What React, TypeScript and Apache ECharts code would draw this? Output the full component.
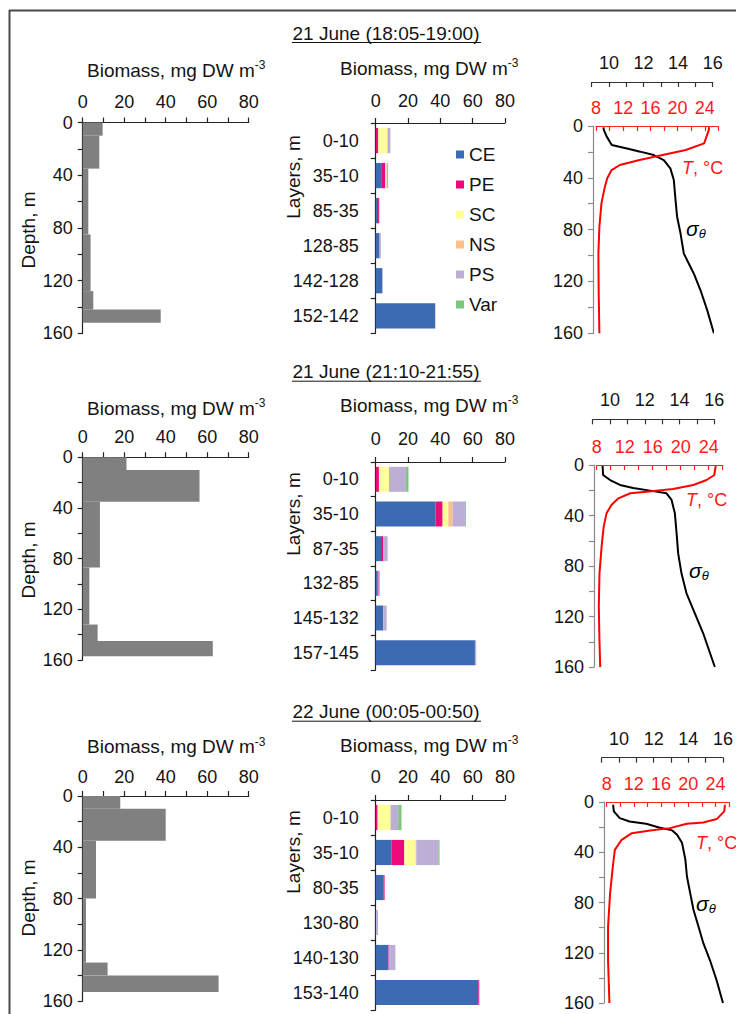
import React, { useEffect, useRef } from "react";
import * as echarts from "echarts";

const FONT = "Liberation Sans, Arial, Helvetica, sans-serif";

// ---------- DATA ----------
const dateTitles = ["21 June (18:05-19:00)", "21 June (21:10-21:55)", "22 June (00:05-00:50)"];
const groupNames = ["CE", "PE", "SC", "NS", "PS", "Var"];
const groupColors = ["#3d6bb3", "#ec0a7a", "#ffff9a", "#fbbf8a", "#bdaed6", "#7dc77d"];

// histogram layers (depth top, depth bottom, biomass)
const hist1Top = [0, 10, 35, 85, 128, 142];
const hist1Bottom = [10, 35, 85, 128, 142, 152];
const hist1Value = [9.6, 8.0, 2.7, 3.8, 5.1, 37.6];
const hist2Top = [0, 10, 35, 87, 132, 145];
const hist2Bottom = [10, 35, 87, 132, 145, 157];
const hist2Value = [21.1, 56.3, 8.3, 3.2, 7.2, 62.7];
const hist3Top = [0, 10, 35, 80, 130, 140];
const hist3Bottom = [10, 35, 80, 130, 140, 153];
const hist3Value = [18.1, 40.0, 6.4, 1.6, 12.0, 65.5];

// layers (categories) of the stacked bars
const layers1 = ["0-10", "35-10", "85-35", "128-85", "142-128", "152-142"];
const layers2 = ["0-10", "35-10", "87-35", "132-85", "145-132", "157-145"];
const layers3 = ["0-10", "35-10", "80-35", "130-80", "140-130", "153-140"];

// stacked biomass by group
const ce1 = [0.2, 3.8, 0.8, 2.3, 4.1, 36.7];
const pe1 = [1.4, 2.2, 1.2, 0.1, 0, 0];
const sc1 = [5.6, 0.6, 0, 0, 0, 0];
const ns1 = [0.3, 0.3, 0, 0, 0, 0];
const ps1 = [1.5, 0.8, 0.4, 0.8, 0.3, 0.3];
const var1 = [0.1, 0, 0, 0, 0, 0];

const ce2 = [0, 37.1, 3.3, 1.2, 4.7, 61.4];
const pe2 = [2.0, 4.3, 1.4, 0.6, 0, 0];
const sc2 = [6.2, 3.5, 0, 0, 0, 0];
const ns2 = [0, 2.7, 0, 0, 0, 0];
const ps2 = [10.5, 7.6, 2.7, 0.8, 2.1, 0.8];
const var2 = [1.6, 0.6, 0, 0, 0, 0];

const ce3 = [0, 9.9, 4.7, 0.2, 7.8, 63.5];
const pe3 = [1.2, 7.8, 0.8, 0, 0.3, 0.6];
const sc3 = [8.0, 7.0, 0, 0, 0, 0];
const ns3 = [0, 0.4, 0, 0, 0, 0];
const ps3 = [4.7, 13.6, 0, 1.2, 4.1, 0];
const var3 = [2.1, 0.8, 0, 0, 0, 0];

// temperature profiles [T, depth]
const temp1 = [[24.6, 1], [24.6, 3], [23.9, 13.4], [21.2, 18.5], [17.8, 22.4], [14.4, 26.3], [11.5, 30.1], [10.3, 34], [9.65, 40.4], [9.3, 47], [8.8, 59.7], [8.5, 77.8], [8.35, 98.4], [8.4, 130], [8.5, 160]];
const temp2 = [[25.0, 0.8], [24.8, 7.9], [23.7, 11.9], [21.8, 15.8], [18.9, 19.0], [15.1, 21.1], [12.8, 22.4], [11.1, 26.4], [10.1, 31.7], [9.4, 38.3], [9.0, 48.8], [8.7, 64.7], [8.4, 85.8], [8.3, 112], [8.4, 140], [8.5, 160]];
const temp3 = [[25.4, 2.2], [25.3, 7.5], [24.2, 13.6], [22.2, 16.3], [19.8, 17.3], [17.3, 20.8], [14.4, 22.6], [11.7, 24.8], [10.2, 30.1], [9.2, 38.1], [8.9, 51.4], [8.5, 72.7], [8.2, 99.3], [8.2, 126], [8.4, 160]];

// density profiles [sigma-theta, depth]
const sigma1 = [[9.68, 1], [9.7, 3], [9.87, 8.2], [10.16, 14.7], [11.04, 17.3], [11.81, 19.8], [12.59, 22.4], [13.17, 26.3], [13.55, 32.7], [13.75, 41.7], [13.85, 57.2], [13.94, 70], [14.14, 83], [14.33, 98.5], [14.91, 114], [15.3, 127], [15.69, 142.5], [16.07, 160]];
const sigma2 = [[9.57, 0.8], [9.6, 7.9], [10.0, 11.9], [10.57, 15.8], [11.33, 18.2], [12.3, 20.3], [13.25, 22.4], [13.54, 27.7], [13.73, 38.3], [13.83, 54.1], [13.92, 70], [14.11, 85.8], [14.4, 101.6], [14.88, 117.5], [15.36, 133.3], [16.03, 160]];
const sigma3 = [[9.66, 2.2], [9.7, 7.5], [10.04, 12.8], [10.61, 15.5], [11.56, 17.3], [12.31, 20.3], [13.07, 22.6], [13.35, 26.1], [13.64, 32.7], [13.83, 46], [13.92, 59.3], [14.11, 72.7], [14.3, 86], [14.59, 99.3], [14.87, 112.6], [15.25, 126], [15.63, 141.9], [16.0, 160]];

const biomassTicks = [0, 20, 40, 60, 80];
const depthTicks = [0, 40, 80, 120, 160];
const tempTicks = [8, 12, 16, 20, 24];
const sigmaTicks = [10, 12, 14, 16];

// ---------- ROW BUNDLES ----------
const rowsData = [
  { title: dateTitles[0], hTop: hist1Top, hBot: hist1Bottom, hVal: hist1Value, layers: layers1, groups: [ce1, pe1, sc1, ns1, ps1, var1], temp: temp1, sigma: sigma1 },
  { title: dateTitles[1], hTop: hist2Top, hBot: hist2Bottom, hVal: hist2Value, layers: layers2, groups: [ce2, pe2, sc2, ns2, ps2, var2], temp: temp2, sigma: sigma2 },
  { title: dateTitles[2], hTop: hist3Top, hBot: hist3Bottom, hVal: hist3Value, layers: layers3, groups: [ce3, pe3, sc3, ns3, ps3, var3], temp: temp3, sigma: sigma3 },
];

// ---------- LAYOUT ----------
const layout = [
  { titleY: 33, bioLeftY: 70, bioMidY: 68, lTop: 122.5, lBot: 333.3, lMar: 12, mTop: 123, mBot: 333.3, mMar: 13,
    sigLineY: 82, tLeft: 596, tRight: 718.4, dTop: 126, dBot: 333.3, dX: 593, sLeft: 591.7, sRight: 712.7,
    depthNameY: 230, layersNameY: 177, tLab: [682, 168], sLab: [686, 228] },
  { titleY: 371.7, bioLeftY: 408, bioMidY: 405, lTop: 457.3, lBot: 660, lMar: 11, mTop: 462, mBot: 670, mMar: 14,
    sigLineY: 419.3, tLeft: 596.7, tRight: 722.7, dTop: 465, dBot: 667, dX: 594, sLeft: 592.7, sRight: 714.3,
    depthNameY: 560, layersNameY: 514, tLab: [686, 500], sLab: [689, 570] },
  { titleY: 711.7, bioLeftY: 746.7, bioMidY: 745, lTop: 796, lBot: 1001, lMar: 10, mTop: 800, mBot: 1010, mMar: 14,
    sigLineY: 757.7, tLeft: 606.7, tRight: 729, dTop: 802, dBot: 1003, dX: 604, sLeft: 601.7, sRight: 725,
    depthNameY: 898, layersNameY: 852, tLab: [696, 843], sLab: [696, 903] },
];

const TXT = "#141414";
const labelStyle = (size: number, color = TXT) => ({ fontSize: size, color, fontFamily: FONT });
const inList = (list: number[]) => (v: number) => (list.indexOf(Math.round(v * 1000) / 1000) >= 0 ? String(v) : "");

function buildOption() {
  const grids: any[] = [];
  const xAxes: any[] = [];
  const yAxes: any[] = [];
  const series: any[] = [];
  const graphics: any[] = [];

  // frame
  graphics.push({ type: "line", shape: { x1: 9, y1: 10.5, x2: 736, y2: 10.5 }, style: { stroke: "#4a4a4a", lineWidth: 2 } });
  graphics.push({ type: "line", shape: { x1: 9.5, y1: 10, x2: 9.5, y2: 1014 }, style: { stroke: "#4a4a4a", lineWidth: 2 } });

  rowsData.forEach((rd, r) => {
    const L = layout[r];

    // ---- left histogram ----
    const gL = grids.length;
    grids.push({ left: 82.7, top: L.lTop, width: 166, height: L.lBot - L.lTop });
    const xL = xAxes.length;
    xAxes.push({
      gridIndex: gL, type: "value", position: "top", min: 0, max: 80, interval: 10,
      axisLine: { show: true, onZero: false, lineStyle: { color: "#222", width: 1.2 } },
      axisTick: { show: true, length: 5, lineStyle: { color: "#222", width: 1.2 } },
      axisLabel: { ...labelStyle(18), margin: L.lMar, formatter: inList(biomassTicks) },
      splitLine: { show: false },
    });
    const yL = yAxes.length;
    yAxes.push({
      gridIndex: gL, type: "value", inverse: true, min: 0, max: 160, interval: 20,
      axisLine: { show: true, onZero: false, lineStyle: { color: "#222", width: 1.2 } },
      axisTick: { show: true, length: 5, lineStyle: { color: "#222", width: 1.2 } },
      axisLabel: { ...labelStyle(18), margin: 10, formatter: inList(depthTicks) },
      splitLine: { show: false },
    });
    series.push({
      type: "custom", xAxisIndex: xL, yAxisIndex: yL,
      data: rd.hVal.map((v, i) => [rd.hTop[i], rd.hBot[i], v]),
      encode: { x: 2, y: [0, 1] },
      renderItem: (params: any, api: any) => {
        const p0 = api.coord([0, api.value(0)]);
        const p1 = api.coord([api.value(2), api.value(1)]);
        return { type: "rect", shape: { x: p0[0], y: p0[1], width: p1[0] - p0[0], height: p1[1] - p0[1] }, style: { fill: "#808080" } };
      },
    });

    // ---- middle stacked bars ----
    const gM = grids.length;
    grids.push({ left: 375.7, top: L.mTop, width: 129.3, height: L.mBot - L.mTop });
    const xM = xAxes.length;
    xAxes.push({
      gridIndex: gM, type: "value", position: "top", min: 0, max: 80, interval: 20,
      axisLine: { show: true, onZero: false, lineStyle: { color: "#222", width: 1.2 } },
      axisTick: { show: true, length: 5, lineStyle: { color: "#222", width: 1.2 } },
      axisLabel: { ...labelStyle(18), margin: L.mMar },
      splitLine: { show: false },
    });
    const yM = yAxes.length;
    yAxes.push({
      gridIndex: gM, type: "category", inverse: true, data: rd.layers,
      axisLine: { show: true, onZero: false, lineStyle: { color: "#222", width: 1.2 } },
      axisTick: { show: true, length: 5, alignWithLabel: false, lineStyle: { color: "#222", width: 1.2 } },
      axisLabel: { ...labelStyle(18), margin: 17 },
    });
    rd.groups.forEach((vals, gi) => {
      series.push({
        type: "bar", name: groupNames[gi], stack: "row" + r, xAxisIndex: xM, yAxisIndex: yM,
        data: vals, barCategoryGap: "28%", itemStyle: { color: groupColors[gi] },
      });
    });

    // ---- right profiles: temperature + depth axis ----
    const gT = grids.length;
    grids.push({ left: L.tLeft, top: L.dTop, width: L.tRight - L.tLeft, height: L.dBot - L.dTop });
    const xT = xAxes.length;
    xAxes.push({
      gridIndex: gT, type: "value", position: "top", min: 8, max: 26, interval: 2,
      axisLine: { show: true, onZero: false, lineStyle: { color: "#ff2020", width: 1.2 } },
      axisTick: { show: true, inside: true, length: 5, lineStyle: { color: "#ff2020", width: 1.2 } },
      axisLabel: { ...labelStyle(18, "#ff1a1a"), margin: 9, formatter: inList(tempTicks) },
      splitLine: { show: false },
    });
    const yT = yAxes.length;
    yAxes.push({
      gridIndex: gT, type: "value", inverse: true, min: 0, max: 160, interval: 20, offset: L.tLeft - L.dX,
      axisLine: { show: true, onZero: false, lineStyle: { color: "#8a8a8a", width: 1.2 } },
      axisTick: { show: true, length: 5, lineStyle: { color: "#8a8a8a", width: 1.2 } },
      axisLabel: { ...labelStyle(18), margin: 10, formatter: inList(depthTicks) },
      splitLine: { show: false },
    });
    series.push({
      type: "line", xAxisIndex: xT, yAxisIndex: yT, data: rd.temp, symbol: "none", showSymbol: false,
      lineStyle: { color: "#ff0000", width: 2 }, z: 3,
    });

    // ---- sigma-theta ----
    const gS = grids.length;
    grids.push({ left: L.sLeft, top: L.dTop, width: L.sRight - L.sLeft, height: L.dBot - L.dTop });
    const xS = xAxes.length;
    xAxes.push({
      gridIndex: gS, type: "value", position: "top", offset: L.dTop - L.sigLineY, min: 9, max: 16, interval: 1,
      axisLine: { show: true, onZero: false, lineStyle: { color: "#333", width: 1.2 } },
      axisTick: { show: true, inside: true, length: 5, lineStyle: { color: "#333", width: 1.2 } },
      axisLabel: { ...labelStyle(18), margin: 10, formatter: inList(sigmaTicks) },
      splitLine: { show: false },
    });
    const yS = yAxes.length;
    yAxes.push({ gridIndex: gS, type: "value", inverse: true, min: 0, max: 160, show: false, splitLine: { show: false } });
    series.push({
      type: "line", xAxisIndex: xS, yAxisIndex: yS, data: rd.sigma, symbol: "none", showSymbol: false,
      lineStyle: { color: "#000", width: 2 }, z: 2,
    });

    // ---- texts ----
    graphics.push({
      type: "text", x: 386, y: L.titleY,
      style: { text: rd.title, fontSize: 19, fontFamily: FONT, fill: TXT, align: "center", verticalAlign: "middle", textAlign: "center", textVerticalAlign: "middle" },
    });
    graphics.push({ type: "line", shape: { x1: 292, y1: L.titleY + 9.5, x2: 481, y2: L.titleY + 9.5 }, style: { stroke: TXT, lineWidth: 1 } });

    const bio = (x: number, y: number) => ({
      type: "text", x, y,
      style: {
        text: "{a|Biomass, mg DW m}{b|-3}",
        align: "left", verticalAlign: "middle", textAlign: "left", textVerticalAlign: "middle",
        rich: {
          a: { fontSize: 19, fontFamily: FONT, fill: TXT, lineHeight: 22 },
          b: { fontSize: 12, fontFamily: FONT, fill: TXT, verticalAlign: "top", lineHeight: 12 },
        },
      },
    });
    graphics.push(bio(87, L.bioLeftY));
    graphics.push(bio(340, L.bioMidY));

    graphics.push({
      type: "text", x: 28, y: L.depthNameY, rotation: Math.PI / 2,
      style: { text: "Depth, m", fontSize: 19, fontFamily: FONT, fill: TXT, align: "center", verticalAlign: "middle", textAlign: "center", textVerticalAlign: "middle" },
    });
    graphics.push({
      type: "text", x: 293, y: L.layersNameY, rotation: Math.PI / 2,
      style: { text: "Layers, m", fontSize: 19, fontFamily: FONT, fill: TXT, align: "center", verticalAlign: "middle", textAlign: "center", textVerticalAlign: "middle" },
    });
    graphics.push({
      type: "text", x: L.tLab[0], y: L.tLab[1],
      style: {
        text: "{i|T}{n|, °C}", align: "left", verticalAlign: "middle", textAlign: "left", textVerticalAlign: "middle",
        rich: {
          i: { fontSize: 18, fontFamily: FONT, fill: "#ff1a1a", fontStyle: "italic" },
          n: { fontSize: 18, fontFamily: FONT, fill: "#ff1a1a" },
        },
      },
    });
    graphics.push({
      type: "text", x: L.sLab[0], y: L.sLab[1],
      style: {
        text: "{s|σ}{t|θ}", align: "left", verticalAlign: "middle", textAlign: "left", textVerticalAlign: "middle",
        rich: {
          s: { fontSize: 21, fontFamily: FONT, fill: "#000", fontStyle: "italic", lineHeight: 24 },
          t: { fontSize: 13, fontFamily: FONT, fill: "#000", fontStyle: "italic", verticalAlign: "bottom", lineHeight: 14 },
        },
      },
    });
  });

  return {
    animation: false,
    backgroundColor: "#ffffff",
    textStyle: { fontFamily: FONT },
    legend: {
      data: groupNames, orient: "vertical", left: 451, top: 140, itemWidth: 8, itemHeight: 8, itemGap: 11,
      icon: "rect", selectedMode: false, textStyle: { fontSize: 19, color: TXT, fontFamily: FONT },
    },
    grid: grids,
    xAxis: xAxes,
    yAxis: yAxes,
    series,
    graphic: graphics,
  };
}

export default function App() {
  const ref = useRef<HTMLDivElement>(null);
  useEffect(() => {
    if (!ref.current) return;
    const chart = echarts.init(ref.current, undefined, { renderer: "svg" });
    chart.setOption(buildOption() as any);
    return () => chart.dispose();
  }, []);
  return (
    <div style={{ position: "absolute", left: 0, top: 0, width: 736, height: 1014, background: "#fff" }}>
      <div ref={ref} style={{ width: 736, height: 1014 }} />
    </div>
  );
}
